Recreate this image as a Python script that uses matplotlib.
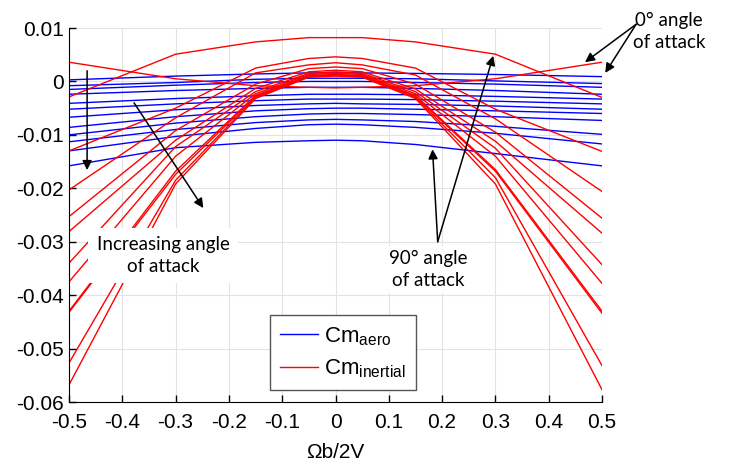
import numpy as np
import matplotlib
matplotlib.use("Agg")
import matplotlib.pyplot as plt

# rate values (Omega b / 2V)
x = [-0.5, -0.3, -0.15, -0.05, 0.0, 0.05, 0.15, 0.3, 0.5]

# Cm aero, one row per angle of attack (0 deg on top, 90 deg at bottom)
cm_aero = [
    [0.0003, 0.0010, 0.0014, 0.0016, 0.0016, 0.0016, 0.0015, 0.0013, 0.0009],
    [-0.0008, -0.0002, 0.0004, 0.0006, 0.0006, 0.0006, 0.0005, 0.0001, -0.0004],
    [-0.0015, -0.0007, -0.0002, 0.0000, 0.0000, 0.0000, -0.0002, -0.0005, -0.0011],
    [-0.0024, -0.0017, -0.0013, -0.0011, -0.0011, -0.0011, -0.0013, -0.0017, -0.0024],
    [-0.0041, -0.0032, -0.0027, -0.0024, -0.0024, -0.0024, -0.0025, -0.0028, -0.0033],
    [-0.0052, -0.0042, -0.0036, -0.0033, -0.0033, -0.0033, -0.0034, -0.0037, -0.0042],
    [-0.0067, -0.0053, -0.0045, -0.0042, -0.0041, -0.0042, -0.0043, -0.0046, -0.0052],
    [-0.0086, -0.0066, -0.0055, -0.0051, -0.0050, -0.0050, -0.0052, -0.0055, -0.0060],
    [-0.0100, -0.0078, -0.0066, -0.0061, -0.0060, -0.0060, -0.0062, -0.0066, -0.0073],
    [-0.0113, -0.0090, -0.0077, -0.0072, -0.0071, -0.0072, -0.0075, -0.0084, -0.0099],
    [-0.0130, -0.0103, -0.0088, -0.0081, -0.0080, -0.0081, -0.0086, -0.0097, -0.0117],
    [-0.0158, -0.0124, -0.0114, -0.0111, -0.0110, -0.0111, -0.0118, -0.0135, -0.0158],
]

# Cm inertial
cm_inertial = [
    [0.0036, 0.0005, -0.0008, -0.0011, -0.0012, -0.0011, -0.0008, 0.0005, 0.0036],
    [-0.0029, 0.0051, 0.0074, 0.0082, 0.0082, 0.0082, 0.0074, 0.0051, -0.0030],
    [-0.0130, -0.0050, 0.0025, 0.0043, 0.0046, 0.0043, 0.0025, -0.0052, -0.0131],
    [-0.0203, -0.0068, 0.0016, 0.0031, 0.0035, 0.0031, 0.0012, -0.0070, -0.0206],
    [-0.0253, -0.0092, -0.0005, 0.0024, 0.0027, 0.0024, -0.0005, -0.0095, -0.0256],
    [-0.0281, -0.0110, -0.0013, 0.0018, 0.0021, 0.0018, -0.0014, -0.0112, -0.0284],
    [-0.0340, -0.0122, -0.0019, 0.0015, 0.0018, 0.0015, -0.0019, -0.0125, -0.0343],
    [-0.0375, -0.0140, -0.0023, 0.0013, 0.0015, 0.0013, -0.0023, -0.0140, -0.0378],
    [-0.0430, -0.0168, -0.0026, 0.0011, 0.0013, 0.0011, -0.0026, -0.0165, -0.0430],
    [-0.0432, -0.0174, -0.0028, 0.0010, 0.0012, 0.0010, -0.0028, -0.0168, -0.0434],
    [-0.0527, -0.0185, -0.0030, 0.0009, 0.0011, 0.0009, -0.0030, -0.0180, -0.0532],
    [-0.0568, -0.0192, -0.0032, 0.0008, 0.0010, 0.0008, -0.0032, -0.0192, -0.0577],
]

xticks = [-0.5, -0.4, -0.3, -0.2, -0.1, 0, 0.1, 0.2, 0.3, 0.4, 0.5]
xticklabels = ["-0.5", "-0.4", "-0.3", "-0.2", "-0.1", "0", "0.1", "0.2", "0.3", "0.4", "0.5"]
yticks = [-0.06, -0.05, -0.04, -0.03, -0.02, -0.01, 0, 0.01]
yticklabels = ["-0.06", "-0.05", "-0.04", "-0.03", "-0.02", "-0.01", "0", "0.01"]

plt.rcParams["font.family"] = ["Liberation Sans", "DejaVu Sans"]
plt.rcParams["mathtext.fontset"] = "custom"
plt.rcParams["mathtext.rm"] = "Liberation Sans"

fig = plt.figure(figsize=(7.3, 4.66), dpi=100)
ax = fig.add_axes([0.0945, 0.1373, 0.7302, 0.8026])

for i, row in enumerate(cm_aero):
    ax.plot(x, row, color="#0000ff", lw=1.0,
            label=r"Cm$_{\mathrm{aero}}$" if i == 0 else None)
for i, row in enumerate(cm_inertial):
    ax.plot(x, row, color="#ff0000", lw=1.0,
            label=r"Cm$_{\mathrm{inertial}}$" if i == 0 else None)

ax.set_xlim(-0.5, 0.5)
ax.set_ylim(-0.06, 0.01)
ax.set_xticks(xticks)
ax.set_xticklabels(xticklabels)
ax.set_yticks(yticks)
ax.set_yticklabels(yticklabels)
ax.tick_params(direction="in", length=5, labelsize=15, width=1)
ax.tick_params(axis="x", pad=8)
ax.grid(True, color="#e3e3e3", lw=0.8)
ax.set_axisbelow(True)
for s in ["top", "right"]:
    ax.spines[s].set_visible(False)
ax.set_xlabel("Ωb/2V", fontsize=15, labelpad=8)

leg = ax.legend(loc="upper left", bbox_to_anchor=(0.377, 0.232), fontsize=16,
                fancybox=False, edgecolor="#555555", framealpha=1,
                handlelength=1.7, handletextpad=0.3, borderpad=0.45,
                labelspacing=0.45, borderaxespad=0)
leg.get_frame().set_linewidth(1.0)

tfont = dict(family=["Lato", "DejaVu Sans"], fontsize=13.5, ha="center", va="center",
             linespacing=1.35)
ap = dict(arrowstyle="-|>", color="k", lw=1.1, mutation_scale=14, shrinkA=0, shrinkB=0)

# 0 deg annotation
ax.text(0.626, 0.0093, "0° angle\nof attack", clip_on=False, **tfont)
ax.annotate("", xy=(0.468, 0.0036), xytext=(0.564, 0.0107), arrowprops=ap, annotation_clip=False)
ax.annotate("", xy=(0.506, 0.0016), xytext=(0.564, 0.0107), arrowprops=ap, annotation_clip=False)

# increasing angle annotation
ax.text(-0.3236, -0.0326, "Increasing angle\nof attack",
        bbox=dict(facecolor="white", edgecolor="none", pad=6), **tfont)
ax.annotate("", xy=(-0.466, -0.0166), xytext=(-0.466, 0.0020), arrowprops=ap)
ax.annotate("", xy=(-0.248, -0.0237), xytext=(-0.378, -0.0040), arrowprops=ap)

# 90 deg annotation
ax.text(0.174, -0.0352, "90° angle\nof attack",
        bbox=dict(facecolor="white", edgecolor="none", pad=3), **tfont)
ax.annotate("", xy=(0.182, -0.0127), xytext=(0.1917, -0.0300), arrowprops=ap)
ax.annotate("", xy=(0.296, 0.0048), xytext=(0.1917, -0.0300), arrowprops=ap)

fig.savefig("out.png", dpi=100)
